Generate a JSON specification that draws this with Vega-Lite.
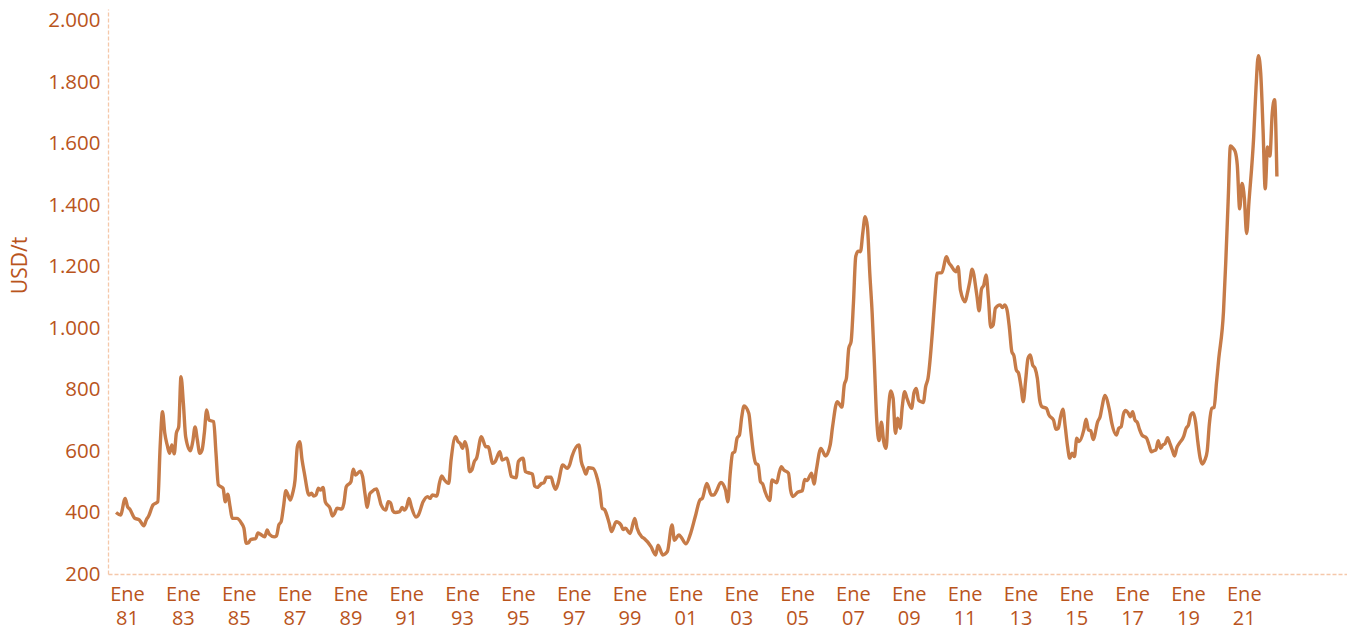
{
"$schema": "https://vega.github.io/schema/vega-lite/v6.json",
"width": 1239, "height": 565,
"autosize": {"type": "none"},
"padding": {"left": 108, "top": 9, "right": 0, "bottom": 56},
"background": "white",
"config": {"view": {"stroke": null}, "font": "Open Sans"},
"data": {"values": [
{"d":"1981-01","v":400},{"d":"1981-03","v":392},{"d":"1981-05","v":446},{"d":"1981-06","v":419},{"d":"1981-07","v":411},{"d":"1981-09","v":382},{"d":"1981-11","v":376},
{"d":"1982-01","v":357},{"d":"1982-02","v":376},{"d":"1982-03","v":387},{"d":"1982-05","v":425},{"d":"1982-06","v":430},{"d":"1982-07","v":435},{"d":"1982-08","v":614},{"d":"1982-09","v":728},{"d":"1982-10","v":658},{"d":"1982-11","v":620},{"d":"1982-12","v":593},
{"d":"1983-01","v":620},{"d":"1983-02","v":591},{"d":"1983-03","v":658},{"d":"1983-04","v":679},{"d":"1983-05","v":842},{"d":"1983-06","v":756},{"d":"1983-07","v":647},{"d":"1983-09","v":601},{"d":"1983-10","v":630},{"d":"1983-11","v":679},{"d":"1983-12","v":636},
{"d":"1984-01","v":593},{"d":"1984-02","v":604},{"d":"1984-03","v":658},{"d":"1984-04","v":734},{"d":"1984-05","v":701},{"d":"1984-07","v":696},{"d":"1984-08","v":593},{"d":"1984-09","v":490},{"d":"1984-11","v":479},{"d":"1984-12","v":435},
{"d":"1985-01","v":460},{"d":"1985-02","v":419},{"d":"1985-03","v":381},{"d":"1985-05","v":381},{"d":"1985-07","v":365},{"d":"1985-08","v":349},{"d":"1985-09","v":300},{"d":"1985-10","v":302},{"d":"1985-11","v":313},
{"d":"1986-01","v":315},{"d":"1986-02","v":334},{"d":"1986-03","v":330},{"d":"1986-05","v":321},{"d":"1986-06","v":343},{"d":"1986-07","v":329},{"d":"1986-09","v":321},{"d":"1986-10","v":324},{"d":"1986-11","v":360},{"d":"1986-12","v":370},
{"d":"1987-01","v":419},{"d":"1987-02","v":471},{"d":"1987-04","v":441},{"d":"1987-05","v":463},{"d":"1987-06","v":506},{"d":"1987-07","v":614},{"d":"1987-08","v":631},{"d":"1987-09","v":571},{"d":"1987-10","v":528},{"d":"1987-12","v":457},
{"d":"1988-01","v":463},{"d":"1988-02","v":454},{"d":"1988-03","v":457},{"d":"1988-04","v":479},{"d":"1988-05","v":473},{"d":"1988-06","v":482},{"d":"1988-07","v":435},{"d":"1988-09","v":414},{"d":"1988-10","v":389},{"d":"1988-11","v":398},{"d":"1988-12","v":414},
{"d":"1989-02","v":411},{"d":"1989-03","v":430},{"d":"1989-04","v":484},{"d":"1989-06","v":500},{"d":"1989-07","v":541},{"d":"1989-08","v":522},{"d":"1989-10","v":535},{"d":"1989-11","v":517},{"d":"1989-12","v":463},
{"d":"1990-01","v":417},{"d":"1990-02","v":460},{"d":"1990-03","v":468},{"d":"1990-05","v":477},{"d":"1990-06","v":454},{"d":"1990-07","v":425},{"d":"1990-09","v":408},{"d":"1990-10","v":435},{"d":"1990-11","v":432},{"d":"1990-12","v":406},
{"d":"1991-01","v":400},{"d":"1991-03","v":403},{"d":"1991-04","v":417},{"d":"1991-05","v":408},{"d":"1991-06","v":419},{"d":"1991-07","v":446},{"d":"1991-08","v":419},{"d":"1991-10","v":385},{"d":"1991-11","v":392},
{"d":"1992-01","v":435},{"d":"1992-03","v":452},{"d":"1992-04","v":446},{"d":"1992-05","v":457},{"d":"1992-07","v":454},{"d":"1992-08","v":495},{"d":"1992-09","v":519},{"d":"1992-10","v":508},{"d":"1992-12","v":495},
{"d":"1993-01","v":571},{"d":"1993-03","v":647},{"d":"1993-04","v":631},{"d":"1993-05","v":625},{"d":"1993-06","v":609},{"d":"1993-07","v":631},{"d":"1993-08","v":604},{"d":"1993-09","v":533},{"d":"1993-10","v":539},{"d":"1993-11","v":566},{"d":"1993-12","v":577},
{"d":"1994-02","v":647},{"d":"1994-04","v":614},{"d":"1994-05","v":614},{"d":"1994-07","v":560},{"d":"1994-08","v":566},{"d":"1994-10","v":598},{"d":"1994-11","v":571},
{"d":"1995-01","v":577},{"d":"1995-02","v":549},{"d":"1995-03","v":517},{"d":"1995-05","v":513},{"d":"1995-06","v":566},{"d":"1995-08","v":577},{"d":"1995-09","v":533},{"d":"1995-11","v":528},{"d":"1995-12","v":525},
{"d":"1996-01","v":486},{"d":"1996-02","v":482},{"d":"1996-04","v":495},{"d":"1996-05","v":497},{"d":"1996-06","v":515},{"d":"1996-08","v":515},{"d":"1996-09","v":490},{"d":"1996-10","v":476},{"d":"1996-11","v":495},
{"d":"1997-01","v":555},{"d":"1997-03","v":544},{"d":"1997-04","v":555},{"d":"1997-05","v":582},{"d":"1997-08","v":620},{"d":"1997-09","v":566},{"d":"1997-10","v":544},{"d":"1997-11","v":525},{"d":"1997-12","v":546},
{"d":"1998-02","v":544},{"d":"1998-04","v":508},{"d":"1998-05","v":473},{"d":"1998-06","v":414},{"d":"1998-07","v":410},{"d":"1998-09","v":365},{"d":"1998-10","v":338},{"d":"1998-12","v":370},
{"d":"1999-02","v":360},{"d":"1999-03","v":345},{"d":"1999-04","v":349},{"d":"1999-06","v":332},{"d":"1999-08","v":381},{"d":"1999-09","v":349},{"d":"1999-11","v":321},{"d":"1999-12","v":316},
{"d":"2000-03","v":289},{"d":"2000-05","v":262},{"d":"2000-06","v":294},{"d":"2000-08","v":262},{"d":"2000-10","v":273},{"d":"2000-12","v":360},
{"d":"2001-01","v":310},{"d":"2001-03","v":327},{"d":"2001-04","v":319},{"d":"2001-06","v":298},{"d":"2001-08","v":332},{"d":"2001-10","v":387},{"d":"2001-12","v":441},
{"d":"2002-01","v":446},{"d":"2002-03","v":495},{"d":"2002-05","v":457},{"d":"2002-06","v":457},{"d":"2002-07","v":468},{"d":"2002-09","v":498},{"d":"2002-11","v":473},{"d":"2002-12","v":435},
{"d":"2003-01","v":528},{"d":"2003-02","v":593},{"d":"2003-03","v":598},{"d":"2003-04","v":642},{"d":"2003-05","v":652},{"d":"2003-06","v":712},{"d":"2003-07","v":747},{"d":"2003-09","v":723},{"d":"2003-10","v":658},{"d":"2003-11","v":593},{"d":"2003-12","v":560},
{"d":"2004-01","v":555},{"d":"2004-02","v":500},{"d":"2004-03","v":493},{"d":"2004-04","v":468},{"d":"2004-06","v":439},{"d":"2004-07","v":506},{"d":"2004-09","v":497},{"d":"2004-10","v":528},{"d":"2004-11","v":549},{"d":"2004-12","v":539},
{"d":"2005-02","v":528},{"d":"2005-03","v":473},{"d":"2005-04","v":452},{"d":"2005-06","v":466},{"d":"2005-08","v":471},{"d":"2005-09","v":508},{"d":"2005-10","v":504},{"d":"2005-12","v":528},
{"d":"2006-01","v":493},{"d":"2006-02","v":539},{"d":"2006-04","v":609},{"d":"2006-06","v":584},{"d":"2006-08","v":620},{"d":"2006-09","v":679},{"d":"2006-11","v":761},
{"d":"2007-01","v":743},{"d":"2007-02","v":815},{"d":"2007-03","v":837},{"d":"2007-04","v":935},{"d":"2007-05","v":956},{"d":"2007-06","v":1081},{"d":"2007-07","v":1233},{"d":"2007-08","v":1251},{"d":"2007-09","v":1249},{"d":"2007-10","v":1309},{"d":"2007-11","v":1363},{"d":"2007-12","v":1330},
{"d":"2008-01","v":1179},{"d":"2008-02","v":1049},{"d":"2008-03","v":886},{"d":"2008-04","v":700},{"d":"2008-05","v":634},{"d":"2008-06","v":694},{"d":"2008-07","v":631},{"d":"2008-08","v":609},{"d":"2008-09","v":734},{"d":"2008-10","v":796},{"d":"2008-11","v":772},{"d":"2008-12","v":658},
{"d":"2009-01","v":707},{"d":"2009-02","v":674},{"d":"2009-03","v":745},{"d":"2009-04","v":793},{"d":"2009-05","v":772},{"d":"2009-07","v":739},{"d":"2009-08","v":790},{"d":"2009-09","v":804},{"d":"2009-10","v":766},{"d":"2009-11","v":761},{"d":"2009-12","v":758},
{"d":"2010-01","v":810},{"d":"2010-02","v":837},{"d":"2010-04","v":994},{"d":"2010-05","v":1097},{"d":"2010-06","v":1179},{"d":"2010-08","v":1181},{"d":"2010-10","v":1233},{"d":"2010-11","v":1213},{"d":"2010-12","v":1203},
{"d":"2011-02","v":1184},{"d":"2011-03","v":1200},{"d":"2011-04","v":1124},{"d":"2011-06","v":1086},{"d":"2011-07","v":1114},{"d":"2011-08","v":1151},{"d":"2011-09","v":1192},{"d":"2011-11","v":1108},{"d":"2011-12","v":1057},
{"d":"2012-01","v":1127},{"d":"2012-02","v":1141},{"d":"2012-03","v":1173},{"d":"2012-04","v":1097},{"d":"2012-05","v":1003},{"d":"2012-06","v":1010},{"d":"2012-07","v":1065},{"d":"2012-09","v":1076},{"d":"2012-10","v":1067},{"d":"2012-11","v":1076},{"d":"2012-12","v":1059},
{"d":"2013-01","v":1000},{"d":"2013-02","v":924},{"d":"2013-03","v":910},{"d":"2013-04","v":864},{"d":"2013-05","v":853},{"d":"2013-06","v":810},{"d":"2013-07","v":761},{"d":"2013-08","v":831},{"d":"2013-09","v":902},{"d":"2013-10","v":913},{"d":"2013-11","v":880},{"d":"2013-12","v":870},
{"d":"2014-01","v":837},{"d":"2014-02","v":766},{"d":"2014-03","v":745},{"d":"2014-05","v":739},{"d":"2014-06","v":718},{"d":"2014-08","v":701},{"d":"2014-09","v":671},{"d":"2014-10","v":674},{"d":"2014-11","v":712},{"d":"2014-12","v":736},
{"d":"2015-01","v":679},{"d":"2015-02","v":614},{"d":"2015-03","v":577},{"d":"2015-04","v":593},{"d":"2015-05","v":582},{"d":"2015-06","v":642},{"d":"2015-07","v":631},{"d":"2015-09","v":669},{"d":"2015-10","v":704},{"d":"2015-11","v":669},{"d":"2015-12","v":666},
{"d":"2016-01","v":638},{"d":"2016-03","v":696},{"d":"2016-04","v":712},{"d":"2016-05","v":750},{"d":"2016-06","v":781},{"d":"2016-08","v":734},{"d":"2016-09","v":691},{"d":"2016-11","v":652},{"d":"2016-12","v":674},
{"d":"2017-01","v":679},{"d":"2017-02","v":721},{"d":"2017-03","v":732},{"d":"2017-04","v":725},{"d":"2017-05","v":712},{"d":"2017-06","v":728},{"d":"2017-07","v":701},{"d":"2017-08","v":693},{"d":"2017-09","v":669},{"d":"2017-10","v":652},{"d":"2017-12","v":642},
{"d":"2018-01","v":620},{"d":"2018-02","v":598},{"d":"2018-03","v":601},{"d":"2018-04","v":604},{"d":"2018-05","v":634},{"d":"2018-06","v":609},{"d":"2018-07","v":620},{"d":"2018-08","v":625},{"d":"2018-09","v":644},{"d":"2018-10","v":625},{"d":"2018-11","v":604},{"d":"2018-12","v":584},
{"d":"2019-01","v":612},{"d":"2019-02","v":625},{"d":"2019-04","v":649},{"d":"2019-05","v":674},{"d":"2019-06","v":685},{"d":"2019-07","v":718},{"d":"2019-08","v":725},{"d":"2019-09","v":696},{"d":"2019-10","v":631},{"d":"2019-11","v":577},{"d":"2019-12","v":558},
{"d":"2020-01","v":571},{"d":"2020-02","v":600},{"d":"2020-03","v":690},{"d":"2020-04","v":739},{"d":"2020-05","v":742},{"d":"2020-06","v":821},{"d":"2020-07","v":900},{"d":"2020-09","v":1053},{"d":"2020-10","v":1216},{"d":"2020-11","v":1413},{"d":"2020-12","v":1593},
{"d":"2021-01","v":1587},{"d":"2021-02","v":1575},{"d":"2021-03","v":1530},{"d":"2021-04","v":1389},{"d":"2021-05","v":1471},{"d":"2021-06","v":1424},{"d":"2021-07","v":1308},{"d":"2021-08","v":1413},{"d":"2021-10","v":1622},{"d":"2021-11","v":1785},{"d":"2021-12","v":1887},
{"d":"2022-01","v":1831},{"d":"2022-02","v":1645},{"d":"2022-03","v":1454},{"d":"2022-04","v":1590},{"d":"2022-05","v":1560},{"d":"2022-06","v":1700},{"d":"2022-07","v":1744},{"d":"2022-08","v":1494}
]},
"mark": {"type": "line", "color": "#C67B48", "strokeWidth": 3.4, "interpolate": "monotone"},
"encoding": {
  "x": {"field": "d", "type": "temporal",
    "scale": {"type": "utc", "domain": [{"year":1980,"month":9,"date":18,"utc":true},{"year":2025,"month":2,"date":3,"utc":true}]},
    "axis": {"title": null,
      "values": [{"year":1981,"month":1,"date":1,"utc":true},{"year":1983,"month":1,"date":1,"utc":true},{"year":1985,"month":1,"date":1,"utc":true},{"year":1987,"month":1,"date":1,"utc":true},{"year":1989,"month":1,"date":1,"utc":true},{"year":1991,"month":1,"date":1,"utc":true},{"year":1993,"month":1,"date":1,"utc":true},{"year":1995,"month":1,"date":1,"utc":true},{"year":1997,"month":1,"date":1,"utc":true},{"year":1999,"month":1,"date":1,"utc":true},{"year":2001,"month":1,"date":1,"utc":true},{"year":2003,"month":1,"date":1,"utc":true},{"year":2005,"month":1,"date":1,"utc":true},{"year":2007,"month":1,"date":1,"utc":true},{"year":2009,"month":1,"date":1,"utc":true},{"year":2011,"month":1,"date":1,"utc":true},{"year":2013,"month":1,"date":1,"utc":true},{"year":2015,"month":1,"date":1,"utc":true},{"year":2017,"month":1,"date":1,"utc":true},{"year":2019,"month":1,"date":1,"utc":true},{"year":2021,"month":1,"date":1,"utc":true}],
      "labelExpr": "['Ene', utcFormat(datum.value, '%y')]",
      "labelOffset": 11, "labelAlign": "center", "labelBaseline": "top", "labelPadding": 10,
      "labelFont": "Open Sans", "labelFontSize": 20, "labelColor": "#B9541C", "labelLineHeight": 24,
      "labelOverlap": false, "labelFlush": false,
      "ticks": false, "grid": false,
      "domainColor": "#F5C8AA", "domainDash": [4, 2], "domainWidth": 1.3}},
  "y": {"field": "v", "type": "quantitative",
    "scale": {"domain": [200, 2039], "nice": false, "zero": false},
    "axis": {"values": [200,400,600,800,1000,1200,1400,1600,1800,2000],
      "labelExpr": "replace(format(datum.value, ','), ',', '.')",
      "labelFont": "Open Sans", "labelFontSize": 20.5, "labelColor": "#B9541C", "labelPadding": 8,
      "ticks": false, "grid": false,
      "domainColor": "#F5C8AA", "domainDash": [4, 2], "domainWidth": 1.3,
      "title": "USD/t", "titleFont": "Open Sans", "titleFontSize": 21, "titleFontWeight": "normal", "titleColor": "#B9541C",
      "titleAngle": 270, "titleAlign": "center", "titleBaseline": "middle", "titleX": -88, "titleY": 256}}
}
}
